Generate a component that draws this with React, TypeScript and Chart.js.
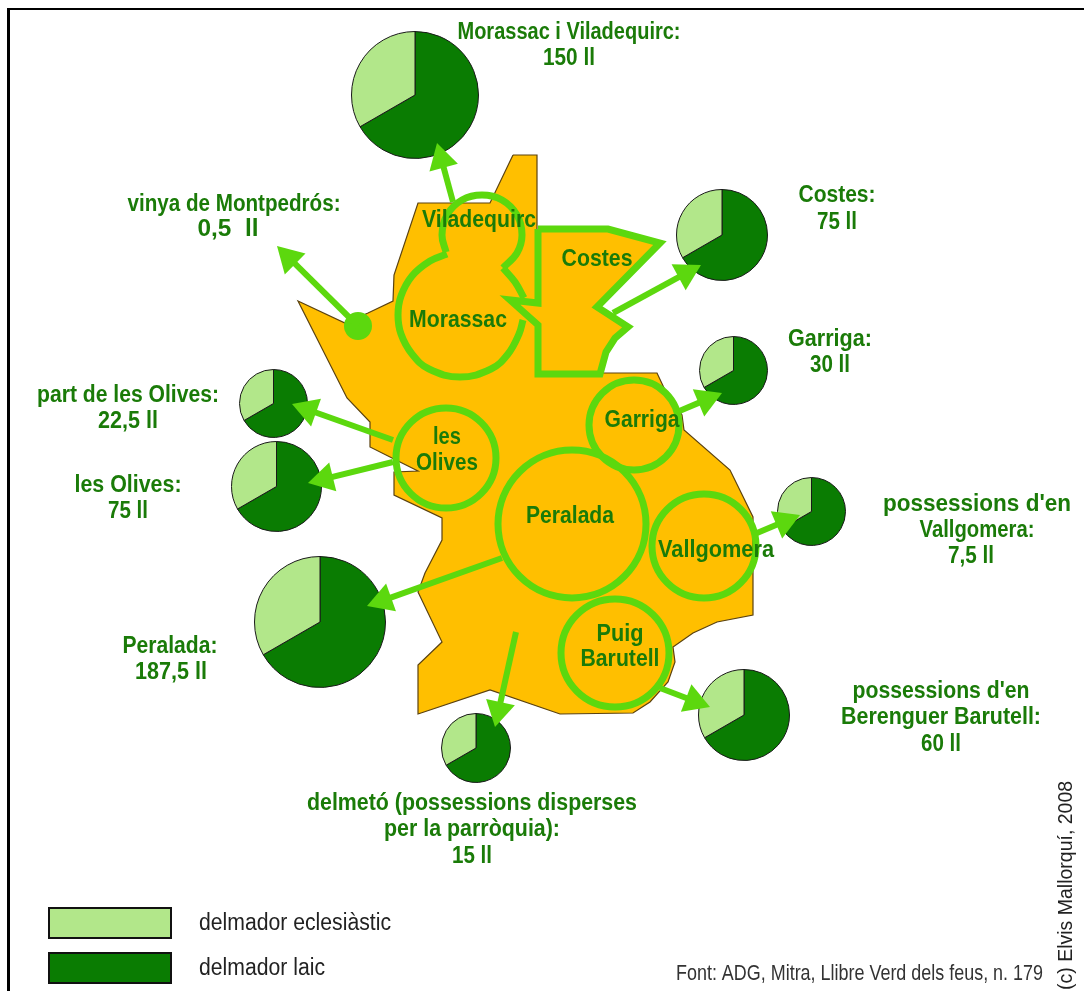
import React, { useEffect, useRef } from "react";
import { Chart, registerables } from "chart.js";

Chart.register(...registerables);

const W = 1084;
const H = 998;

const ORANGE = "#FFBF00";
const LIME = "#5CD80E";
const DARK = "#0A7C02";
const LIGHT = "#B2E78A";
const TEXT_GREEN = "#1A7B08";

// Pies
const pieNames = ["Morassac i Viladequirc", "Costes", "Garriga", "Vallgomera", "Berenguer Barutell", "delmetó", "Peralada", "les Olives", "part de les Olives"];
const laicValues = [100, 50, 20, 5, 40, 10, 125, 50, 15];
const eclesiasticValues = [50, 25, 10, 2.5, 20, 5, 62.5, 25, 7.5];
const pieX = [415, 722, 733, 811, 744, 476, 320, 276, 273];
const pieY = [95, 235, 370, 511, 715, 748, 622, 486, 403];
const pieR = [63, 45, 33.5, 33.5, 45, 34, 65, 44.5, 33.5];

// Territory outline
const territory = [
  [513, 155], [537, 155], [537, 230], [600, 230], [600, 373], [657, 373], [665, 390], [682, 415], [684, 430],
  [730, 470], [753, 517], [753, 615], [717, 622], [693, 633], [673, 647], [675, 662], [668, 682], [650, 702], [633, 713],
  [560, 714], [490, 690], [418, 714], [418, 665], [442, 642], [418, 592], [425, 573], [442, 540], [442, 518],
  [394, 495], [394, 472], [418, 471], [400, 462], [370, 447], [370, 422], [347, 398], [298, 301], [345, 323],
  [368, 313], [393, 301], [394, 275], [418, 203], [490, 203], [513, 155],
];

const costesShape = [
  [538, 229], [608, 229], [660, 243], [597, 307], [628, 327], [615, 338], [606, 352], [600, 374], [538, 374],
  [538, 325], [510, 300], [538, 303], [538, 229],
];

const viladequircArc = [
  [446, 252], [442, 235], [447, 215], [462, 200], [482, 195], [502, 200], [517, 215], [522, 235], [517, 253], [503, 268],
];
const morassacUpperArc = [[503, 268], [515, 282], [524, 298]];
const morassacArc = [
  [447, 254], [430, 261], [412, 276], [401, 296], [398, 315], [401, 334], [412, 354], [429, 369], [460, 377],
  [491, 369], [508, 354], [519, 334], [523, 320],
];

// Round districts
const districtX = [572, 446, 634, 704, 615];
const districtY = [524, 458, 425, 546, 653];
const districtR = [74, 50, 45, 52, 54];
const vinyaDot = { x: 358, y: 326, r: 14 };

// Arrows: start, tip
const arrowStarts = [[453, 202], [358, 326], [613, 313], [677, 412], [757, 533], [660, 688], [516, 632], [502, 558], [393, 462], [393, 440]];
const arrowTips = [[437, 143], [277, 246], [701, 265], [722, 393], [800, 515], [710, 707], [495, 727], [367, 606], [308, 483], [292, 404]];
const HEAD = 17;

// Text: string, centre x, centre y, width
const outsideLabels: [string, number, number, number][] = [
  ["Morassac i Viladequirc:", 569, 31, 223], ["150 ll", 569, 57, 52],
  ["vinya de Montpedrós:", 234, 203, 213], ["0,5  ll", 228, 228, 61],
  ["Costes:", 837, 194, 77], ["75 ll", 837, 221, 40],
  ["Garriga:", 830, 338, 84], ["30 ll", 830, 364, 40],
  ["part de les Olives:", 128, 394, 182], ["22,5 ll", 128, 420, 60],
  ["les Olives:", 128, 484, 107], ["75 ll", 128, 510, 40],
  ["possessions d'en", 977, 503, 188], ["Vallgomera:", 977, 529, 115], ["7,5 ll", 971, 555, 46],
  ["Peralada:", 170, 645, 95], ["187,5 ll", 171, 671, 72],
  ["possessions d'en", 941, 690, 177], ["Berenguer Barutell:", 941, 716, 200], ["60 ll", 941, 743, 40],
  ["delmetó (possessions disperses", 472, 802, 330], ["per la parròquia):", 472, 828, 176], ["15 ll", 472, 855, 40],
];
const mapLabels: [string, number, number, number][] = [
  ["Viladequirc", 479, 218, 114], ["Costes", 597, 257, 71], ["Morassac", 458, 318, 98],
  ["les", 447, 435, 28], ["Olives", 447, 461, 62], ["Garriga", 642, 418, 75], ["Peralada", 570, 514, 88],
  ["Vallgomera", 716, 548, 116], ["Puig", 620, 632, 47], ["Barutell", 620, 657, 79],
];
const legendNames = ["delmador eclesiàstic", "delmador laic"];
const legendColors = [LIGHT, DARK];
const sourceText = "Font: ADG, Mitra, Llibre Verd dels feus, n. 179";
const creditText = "(c) Elvis Mallorquí, 2008";

const xy = (a: number[][]) => a.map(([x, y]) => ({ x, y }));

const textPlugin = {
  id: "mapText",
  afterDatasetsDraw(chart: any) {
    const ctx = chart.ctx;
    const xs = chart.scales.x;
    const ys = chart.scales.y;
    const fitted = (t: string, x: number, y: number, width: number) => {
      const sx = width / ctx.measureText(t).width;
      ctx.save();
      ctx.translate(x, y + 2);
      ctx.scale(sx, 1);
      ctx.fillText(t, 0, 0);
      ctx.restore();
    };
    ctx.save();
    ctx.textBaseline = "middle";
    ctx.textAlign = "center";
    ctx.fillStyle = TEXT_GREEN;
    ctx.font = 'bold 23px "Liberation Sans"';
    outsideLabels.forEach(([t, x, y, w]) => fitted(t, xs.getPixelForValue(x), ys.getPixelForValue(y), w));
    ctx.font = 'bold 24px "Liberation Sans"';
    mapLabels.forEach(([t, x, y, w]) => fitted(t, xs.getPixelForValue(x), ys.getPixelForValue(y), w));
    ctx.textAlign = "left";
    const legendWidths = [192, 126];
    legendNames.forEach((t, i) => {
      const top = 908 + i * 45;
      ctx.fillStyle = legendColors[i];
      ctx.strokeStyle = "#111";
      ctx.lineWidth = 2;
      ctx.fillRect(49, top, 122, 30);
      ctx.strokeRect(49, top, 122, 30);
      ctx.fillStyle = "#222";
      ctx.font = '23px "Liberation Sans"';
      fitted(t, 199, top + 14, legendWidths[i]);
    });
    ctx.fillStyle = "#333";
    ctx.font = '22px "Liberation Sans"';
    fitted(sourceText, 676, 972, 367);
    ctx.save();
    ctx.translate(1067, 990);
    ctx.rotate(-Math.PI / 2);
    ctx.fillStyle = "#222";
    ctx.font = '19.5px "Liberation Sans"';
    ctx.fillText(creditText, 0, 0);
    ctx.restore();
    ctx.restore();
  },
};

function Pie({ i }: { i: number }) {
  const ref = useRef<HTMLCanvasElement>(null);
  useEffect(() => {
    const chart = new Chart(ref.current!, {
      type: "pie",
      data: {
        labels: ["delmador laic", "delmador eclesiàstic"],
        datasets: [{
          label: pieNames[i],
          data: [laicValues[i], eclesiasticValues[i]],
          backgroundColor: [DARK, LIGHT],
          borderColor: "#1a1a1a",
          borderWidth: 1,
        }],
      },
      options: {
        animation: false,
        responsive: false,
        devicePixelRatio: 1,
        layout: { padding: 0, autoPadding: false },
        plugins: { legend: { display: false }, tooltip: { enabled: false } },
      },
    } as any);
    return () => chart.destroy();
  }, [i]);
  const size = Math.round(pieR[i] * 2 + 2);
  return (
    <canvas
      ref={ref}
      width={size}
      height={size}
      style={{ position: "absolute", left: pieX[i] - size / 2, top: pieY[i] - size / 2, width: size, height: size }}
    />
  );
}

export default function App() {
  const ref = useRef<HTMLCanvasElement>(null);
  useEffect(() => {
    const arrowSets = arrowStarts.map((s, i) => {
      const t = arrowTips[i];
      const a = Math.atan2(t[1] - s[1], t[0] - s[0]);
      const cx = t[0] - HEAD * Math.cos(a);
      const cy = t[1] - HEAD * Math.sin(a);
      return {
        type: "scatter",
        label: "arrow " + i,
        data: [{ x: s[0], y: s[1] }, { x: cx, y: cy }],
        showLine: true,
        borderColor: LIME,
        borderWidth: 6,
        backgroundColor: LIME,
        pointStyle: "triangle",
        pointRadius: [0, HEAD],
        pointBorderWidth: 0,
        pointBorderColor: LIME,
        pointBackgroundColor: LIME,
        rotation: ((a * 180) / Math.PI) + 90,
        clip: false,
      };
    });
    const outline = (label: string, pts: number[][], tension = 0.4) => ({
      type: "scatter",
      label,
      data: xy(pts),
      showLine: true,
      tension,
      borderColor: LIME,
      borderWidth: 7,
      pointRadius: 0,
      clip: false,
    });
    const chart = new Chart(ref.current!, {
      type: "scatter",
      data: {
        datasets: [
          ...arrowSets,
          {
            type: "bubble",
            label: "vinya de Montpedrós",
            data: [vinyaDot],
            backgroundColor: LIME,
            borderColor: LIME,
            borderWidth: 0,
            clip: false,
          },
          {
            type: "bubble",
            label: "districts",
            data: districtX.map((x, i) => ({ x, y: districtY[i], r: districtR[i] })),
            backgroundColor: "rgba(0,0,0,0)",
            borderColor: LIME,
            borderWidth: 7,
            clip: false,
          },
          outline("Viladequirc", viladequircArc),
          outline("Morassac upper", morassacUpperArc),
          outline("Morassac", morassacArc),
          {
            ...outline("Costes", costesShape, 0),
            fill: "shape",
            backgroundColor: ORANGE,
          },
          {
            type: "scatter",
            label: "territory",
            data: xy(territory),
            showLine: true,
            fill: "shape",
            backgroundColor: ORANGE,
            borderColor: "#5a4210",
            borderWidth: 1.2,
            pointRadius: 0,
            clip: false,
          },
        ],
      },
      options: {
        animation: false,
        responsive: false,
        devicePixelRatio: 1,
        layout: { padding: 0, autoPadding: false },
        plugins: { legend: { display: false }, tooltip: { enabled: false } },
        scales: {
          x: { type: "linear", display: false, min: 0, max: W },
          y: { type: "linear", display: false, min: 0, max: H, reverse: true },
        },
      },
      plugins: [textPlugin],
    } as any);
    return () => chart.destroy();
  }, []);
  return (
    <div style={{ position: "absolute", left: 0, top: 0, width: W, height: H, background: "#fff", overflow: "hidden" }}>
      <div style={{ position: "absolute", left: 7, top: 8, width: 3, height: 983, background: "#000" }} />
      <div style={{ position: "absolute", left: 7, top: 8, width: W - 7, height: 2, background: "#000" }} />
      {pieNames.map((_, i) => (
        <Pie key={i} i={i} />
      ))}
      <canvas ref={ref} width={W} height={H} style={{ position: "absolute", left: 0, top: 0, width: W, height: H }} />
    </div>
  );
}
